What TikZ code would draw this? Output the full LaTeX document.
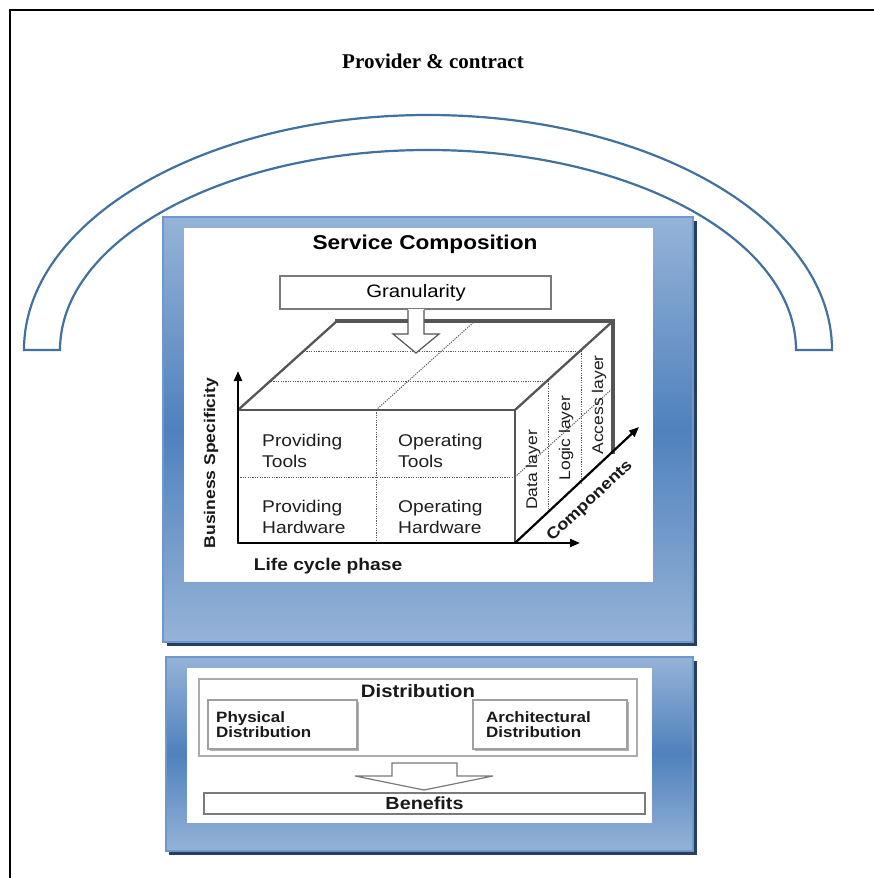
\documentclass[tikz,border=0pt]{standalone}
\usepackage{fontspec}
\setmainfont{Liberation Serif}
\newfontfamily\af[FakeStretch=1.13]{Liberation Sans}
\usetikzlibrary{arrows.meta}
\definecolor{archblue}{HTML}{41719C}
\definecolor{boxlight}{HTML}{95B3D7}
\definecolor{boxmid}{HTML}{4F81BD}
\definecolor{boxedge}{HTML}{6E97CB}
\definecolor{boxshadow}{HTML}{243F60}
\definecolor{cubegray}{HTML}{555555}
\definecolor{dotgray}{HTML}{5A5A5A}
\definecolor{framegray}{HTML}{7A7A7A}
\tikzset{
  bluebox/.style={rectangle, inner sep=0pt, draw=boxedge, line width=1.2pt,
    top color=boxlight, bottom color=boxlight, middle color=boxmid},
  whitepanel/.style={rectangle, inner sep=0pt, fill=white},
  graybox/.style={rectangle, inner sep=0pt, draw=framegray, line width=1.2pt, fill=white},
  dotline/.style={dotgray, line width=1pt, dash pattern=on 1.2pt off 1.2pt},
  cubeline/.style={cubegray, line width=2.3pt},
  cubethick/.style={cubegray, line width=3.6pt},
  axisline/.style={black, line width=2.2pt, -{Triangle[length=10pt,width=8pt]}},
  celltext/.style={font=\af\fontsize{17}{21}\selectfont, align=left, anchor=west, inner sep=0pt, text=black!88},
  layertext/.style={font=\af\fontsize{15.5}{18}\selectfont, rotate=90, inner sep=0pt, text=black!88},
  boldlabel/.style={font=\af\bfseries\fontsize{17}{20}\selectfont, inner sep=0pt, text=black!90},
  smallbold/.style={font=\af\bfseries\fontsize{15}{15.5}\selectfont, align=left, anchor=west, inner sep=0pt, text=black!90}
}
\begin{document}
\begin{tikzpicture}[x=1pt,y=-1pt]
\useasboundingbox (0,0) rectangle (874,878);
\fill[white] (0,0) rectangle (874,878);

% outer frame
\draw[line width=2.2pt] (10,878) -- (10,10) -- (874,10);

% title
\node[font=\bfseries\fontsize{21}{25}\selectfont, inner sep=0pt] (title) at (433,61) {Provider \& contract};

% arch
\draw[archblue, line width=2.2pt, fill=white] (24,350)
  arc[start angle=180, end angle=0, x radius=404pt, y radius=235pt]
  -- (796,350)
  arc[start angle=0, end angle=180, x radius=368pt, y radius=200pt]
  -- cycle;

% upper box
\fill[boxshadow] (167,221) rectangle (697,646);
\node[bluebox, minimum width=530pt, minimum height=425pt] (upper) at (428,429.5) {};
\node[whitepanel, minimum width=469pt, minimum height=354pt] (upanel) at (418.5,405) {};

\node[font=\af\bfseries\fontsize{20}{24}\selectfont, inner sep=0pt] (sc) at (425,244) {Service Composition};

% cube coordinates
\coordinate (F0) at (238,543);
\coordinate (F1) at (238,410);
\coordinate (F2) at (515,410);
\coordinate (F3) at (515,543);
\coordinate (B1) at (337,321);
\coordinate (B2) at (613,321);
\coordinate (B3) at (613,452);

% dotted grid
\draw[dotline] (271,381) -- (548,381);
\draw[dotline] (304,351) -- (581,351);
\draw[dotline] (376,410) -- (475,321);
\draw[dotline] (376,410) -- (376,543);
\draw[dotline] (238,477) -- (515,477);
\draw[dotline] (548,381) -- (548,513);
\draw[dotline] (581,351) -- (581,484);
\draw[dotline] (515,477) -- (613,388);

% cube edges
\draw[cubeline] (F1) -- (B1);
\draw[cubeline] (F2) -- (B2);
\draw[cubeline] (F1) -- (F2) -- (F3);
\draw[cubethick, line cap=rect] (B1) -- (B2) -- (B3);

% granularity
\node[graybox, minimum width=271pt, minimum height=33pt] (gran) at (415.5,292.5) {};
\node[font=\af\fontsize{18}{22}\selectfont, inner sep=0pt] (grantext) at (416,293) {Granularity};
\fill[white] (408,309) -- (408,334) -- (393,334) -- (416,353) -- (439,334) -- (424,334) -- (424,309) -- cycle;
\draw[cubegray, line width=1.2pt, line join=miter] (408,310) -- (408,334) -- (393,334) -- (416,353) -- (439,334) -- (424,334) -- (424,310);

% axes
\coordinate (BSend) at (238,371);
\coordinate (LCend) at (580,543);
\coordinate (Cend) at (639,427);
\draw[axisline] (F0) -- (BSend);
\draw[axisline] (F0) -- (LCend);
\draw[axisline] (F3) -- (Cend);
\fill (238,543) circle (1.1pt);

% cell texts
\node[celltext] (pt) at (262,451) {Providing\\Tools};
\node[celltext] (ot) at (398,451) {Operating\\Tools};
\node[celltext] (ph) at (262,517) {Providing\\Hardware};
\node[celltext] (oh) at (398,517) {Operating\\Hardware};

% layer texts
\node[layertext] (dl) at (533,470) {Data layer};
\node[layertext] (ll) at (566,438) {Logic layer};
\node[layertext] (al) at (599,405) {Access layer};

% axis labels
\node[boldlabel, font=\af\bfseries\fontsize{15.5}{18}\selectfont, rotate=90] (bs) at (211,463) {Business Specificity};
\node[boldlabel] (lc) at (328,566) {Life cycle phase};
\node[boldlabel, font=\af\bfseries\fontsize{16}{18}\selectfont, rotate=43] (comp) at (590,501) {Components};

% lower box
\fill[boxshadow] (169,661) rectangle (697,855);
\node[bluebox, minimum width=527pt, minimum height=194pt] (lower) at (429.5,754) {};
\node[whitepanel, minimum width=465pt, minimum height=155pt] (lpanel) at (419.5,745.5) {};

\node[graybox, draw=gray!65, minimum width=438pt, minimum height=77pt] (dist) at (418,717.5) {};
\node[boldlabel, font=\af\bfseries\fontsize{18}{20}\selectfont] (disttext) at (418,691) {Distribution};

\fill[gray!60] (209.5,701.5) rectangle (358.5,750.5);
\node[graybox, draw=gray!75, minimum width=149pt, minimum height=49pt] (phys) at (282.5,724.5) {};
\node[smallbold] (physt) at (216,724.5) {Physical\\Distribution};

\fill[gray!60] (474.5,701.5) rectangle (628.5,750.5);
\node[graybox, draw=gray!75, minimum width=154pt, minimum height=49pt] (arch) at (550,724.5) {};
\node[smallbold] (archt) at (486,724.5) {Architectural\\Distribution};

% block arrow
\draw[framegray, line width=1.2pt, fill=white, line join=miter]
  (392,763) -- (392,776) -- (355,776) -- (424,790) -- (493,776) -- (457,776) -- (457,763) -- cycle;

\node[graybox, minimum width=441pt, minimum height=21pt] (ben) at (424.5,803.5) {};
\node[boldlabel, font=\af\bfseries\fontsize{17.5}{20}\selectfont] (bent) at (424.5,803.5) {Benefits};
\end{tikzpicture}
\end{document}
